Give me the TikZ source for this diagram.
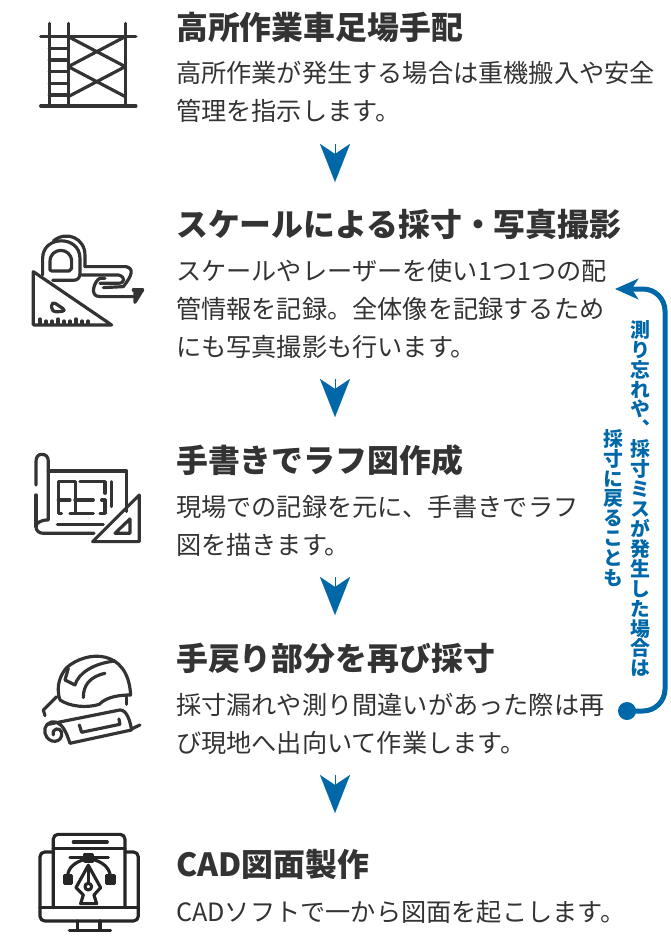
\documentclass[tikz,border=0pt]{standalone}
\usepackage{fontspec}
\usepackage{xcolor}
\setmainfont{Noto Sans CJK JP}
\newfontfamily\vertfont[RawFeature=+vert]{Noto Sans CJK JP}
\usetikzlibrary{arrows.meta,positioning}
\definecolor{inkgray}{RGB}{51,51,51}
\definecolor{flowblue}{RGB}{0,104,169}

\begin{document}
\begin{tikzpicture}[
  x=0.03cm, y=-0.03cm,
  title/.style={anchor=west, inner sep=0pt, text=inkgray, font=\fontsize{27.2pt}{32pt}\selectfont\bfseries},
  body/.style={anchor=north west, inner sep=0pt, text=inkgray, align=left, font=\fontsize{21.5pt}{32.4pt}\selectfont},
  vlabel/.style={anchor=north, inner sep=0pt, text=flowblue, align=center, font=\fontsize{17pt}{17pt}\vertfont\bfseries},
  chev/.style={draw=flowblue, line width=0.1pt, -{Stealth[length=1.14cm, width=0.9cm, inset=0.3cm, fill=flowblue]}},
  back/.style={draw=flowblue, line width=0.15cm, rounded corners=0.66cm, -{Stealth[length=0.7cm, width=0.62cm, inset=0.2cm]}},
  icon/.style={draw=inkgray, line width=0.095cm, line cap=round, line join=round}
]
\useasboundingbox (0,0) rectangle (670,936);

\node[title] (t1) at (176,27) {高所作業車足場手配};
\node[body] (b1) at (176,61) {高所作業が発生する場合は重機搬入や安全\\管理を指示します。};
\node[title] (t2) at (176,224) {スケールによる採寸・写真撮影};
\node[body] (b2) at (176,259) {スケールやレーザーを使い1つ1つの配\\管情報を記録。全体像を記録するため\\にも写真撮影も行います。};
\node[title] (t3) at (176,460) {手書きでラフ図作成};
\node[body] (b3) at (176,495) {現場での記録を元に、手書きでラフ\\図を描きます。};
\node[title] (t4) at (176,658) {手戻り部分を再び採寸};
\node[body] (b4) at (176,693) {採寸漏れや測り間違いがあった際は再\\び現地へ出向いて作業します。};
\node[title] (t5) at (176,864) {CAD図面製作};
\node[body] (b5) at (176,900) {CADソフトで一から図面を起こします。};

% arrows between the steps
\coordinate (c1a) at (335,144); \coordinate (c1b) at (335,182);
\coordinate (c2a) at (335,379); \coordinate (c2b) at (335,417);
\coordinate (c3a) at (335,577); \coordinate (c3b) at (335,615);
\coordinate (c4a) at (335,775); \coordinate (c4b) at (335,813);
\foreach \n in {1,2,3,4}
  \draw[chev] (c\n a) -- (c\n b);

% way back to the measuring step
\node[circle, fill=flowblue, minimum size=0.54cm, inner sep=0pt] (fbdot) at (627,711) {};
\coordinate (fbc1) at (665,711);
\coordinate (fbc2) at (665,289);
\coordinate (fbtip) at (615,289);
\draw[back] (fbdot.center) -- (fbc1) -- (fbc2) -- (fbtip);
\node[vlabel] (v1) at (640,320) {測\\り\\忘\\れ\\や\\、\\採\\寸\\ミ\\ス\\が\\発\\生\\し\\た\\場\\合\\は};
\node[vlabel] (v2) at (613,429) {採\\寸\\に\\戻\\る\\こ\\と\\も};

% scaffold
\begin{scope}[shift={(20,0)}, x=0.01cm, y=-0.01cm]
\draw[icon] (88,70) -- (88,318) (145,70) -- (145,318) (316,70) -- (316,318);
\draw[icon] (62,110) -- (348,110) (62,318) -- (348,318);
\foreach \y in {145,180,215,250,285}
  \draw[icon] (88,\y) -- (145,\y);
\draw[icon] (145,110) -- (316,200) -- (145,290) (316,110) -- (145,200) -- (316,290);
\end{scope}

% tape measure and set square
\begin{scope}[shift={(20,225)}, x=0.01cm, y=-0.01cm]
\draw[icon] (40,140) -- (275,300) -- (40,300) -- cycle;
\draw[icon, rounded corners=4pt] (95,228) -- (140,258) -- (95,262) -- cycle;
\foreach \x/\h in {60/282,78/288,96/288,114/282,132/288,150/288,168/282,186/288,204/288}
  \draw[icon] (\x,298) -- (\x,\h);
\draw[icon] (68,150) -- (68,100) .. controls (68,30) and (180,30) .. (180,100) -- (180,145) .. controls (180,160) and (172,166) .. (160,166) -- (98,166);
\draw[icon] (100,48) .. controls (140,15) and (195,40) .. (195,90) -- (195,125);
\draw[icon] (90,135) -- (90,110) .. controls (90,65) and (155,65) .. (155,110) -- (155,130) -- (148,138) -- (95,138) -- cycle;
\draw[icon] (195,125) -- (318,125) .. controls (342,130) and (338,150) .. (310,185) -- (250,188);
\draw[icon] (185,150) -- (295,150) .. controls (318,155) and (315,175) .. (295,175) -- (240,175);
\draw[icon] (255,160) -- (240,160) .. controls (225,165) and (205,215) .. (240,215) -- (340,215);
\draw[icon, fill=inkgray] (345,197) -- (368,195) -- (345,232) -- cycle;
\draw[icon] (340,195) -- (368,195);
\end{scope}

% blueprint and set square
\begin{scope}[shift={(20,445)}, x=0.01cm, y=-0.01cm]
\draw[icon] (48,120) -- (48,50) .. controls (48,35) and (55,28) .. (65,28) .. controls (78,28) and (85,35) .. (85,50) -- (85,225) .. controls (60,225) and (48,235) .. (48,245) .. controls (48,258) and (58,265) .. (70,265) -- (222,265);
\draw[icon] (48,150) -- (48,245);
\draw[icon] (85,78) -- (320,78) -- (320,200);
\draw[icon] (112,238) -- (250,238) (275,110) -- (275,185);
\draw[icon] (165,110) -- (115,110) -- (115,205) -- (125,205) (150,205) -- (220,205) (240,205) -- (255,205) -- (255,165) (255,145) -- (255,110) -- (180,110);
\draw[icon] (115,165) -- (150,165) (165,165) -- (220,165) (245,165) -- (255,165) (167,110) -- (167,205);
\draw[icon] (358,150) -- (358,290) -- (218,290) -- cycle;
\draw[icon] (330,222) -- (330,265) -- (285,265) -- cycle;
\end{scope}

% helmet and rolled plan
\begin{scope}[shift={(20,645)}, x=0.01cm, y=-0.01cm]
\draw[icon] (120,165) .. controls (105,120) and (125,85) .. (140,68) .. controls (200,15) and (325,10) .. (332,150) .. controls (300,150) and (260,155) .. (238,178) .. controls (200,190) and (150,185) .. (120,165);
\draw[icon] (320,155) -- (320,178);
\draw[icon] (145,70) -- (135,105) -- (165,120) .. controls (175,85) and (220,55) .. (285,48);
\draw[icon] (190,158) .. controls (190,120) and (210,95) .. (255,85);
\draw[icon] (110,155) -- (70,195) -- (75,212);
\draw[icon] (85,238) -- (300,195) .. controls (320,195) and (330,225) .. (335,255) -- (150,295) .. controls (140,265) and (130,240) .. (110,232) .. controls (85,225) and (70,245) .. (75,265) .. controls (85,300) and (130,295) .. (125,262) .. controls (120,245) and (95,250) .. (100,270);
\draw[icon] (178,240) -- (185,262) -- (300,238) -- (297,222);
\draw[icon] (335,252) -- (360,240);
\end{scope}

% monitor and pen tool
\begin{scope}[shift={(20,826)}, x=0.01cm, y=-0.01cm, icon/.append style={draw=black!85}]
\draw[icon, rounded corners=4pt] (100,78) -- (60,78) -- (60,285) -- (355,285) -- (355,78) -- (315,78);
\draw[icon] (60,245) -- (355,245);
\draw[icon, rounded corners=4pt] (100,245) -- (100,25) -- (315,25) -- (315,245);
\draw[icon] (100,68) -- (315,68) (160,48) -- (262,48);
\draw[icon] (172,285) -- (172,312) (240,285) -- (240,312) (148,314) -- (272,314);
\draw[icon] (150,95) -- (265,95);
\draw[icon, fill=black!85] (195,85) rectangle (218,105) (133,149) rectangle (155,172) (260,149) rectangle (283,172);
\draw[icon] (195,100) .. controls (165,108) and (145,125) .. (143,149) (218,100) .. controls (248,108) and (268,125) .. (271,149);
\draw[icon] (205,118) -- (168,185) -- (190,207) -- (182,233) -- (230,233) -- (222,207) -- (242,185) -- cycle;
\draw[icon] (205,118) -- (205,172);
\draw[icon] (205,182) circle (10);
\end{scope}
\end{tikzpicture}
\end{document}
